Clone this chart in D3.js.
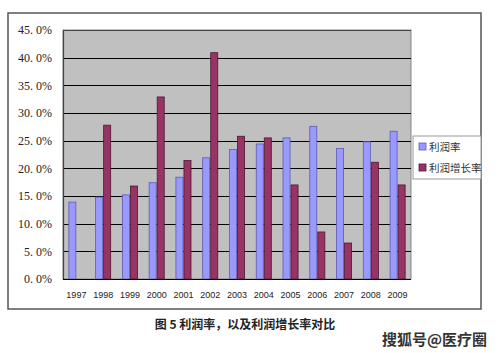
<!DOCTYPE html>
<html>
<head>
<meta charset="utf-8">
<script src="https://cdn.jsdelivr.net/npm/d3@7"></script>
<style>
  html, body { margin: 0; padding: 0; background: #fff; }
  svg { display: block; }
</style>
</head>
<body>
<svg id="chart" width="499" height="353"></svg>
<script>
// data
var years = ["1997","1998","1999","2000","2001","2002","2003","2004","2005","2006","2007","2008","2009"];
var profitRate = [13.9, 14.8, 15.2, 17.4, 18.4, 21.9, 23.4, 24.4, 25.5, 27.6, 23.6, 24.8, 26.7];
var profitGrowth = [null, 27.8, 16.8, 32.9, 21.4, 40.9, 25.8, 25.5, 17.0, 8.5, 6.5, 21.1, 17.0];
var seriesNames = ["利润率", "利润增长率"];
var yTicks = [0, 5, 10, 15, 20, 25, 30, 35, 40, 45];

var colors = { "利润率": "#9999ff", "利润增长率": "#993366" };
var strokes = { "利润率": "#5c5cae", "利润增长率": "#4a1830" };

var svg = d3.select("#chart");

// outer frame
svg.append("rect")
  .attr("x", 8).attr("y", 13)
  .attr("width", 473).attr("height", 296)
  .attr("fill", "#fff")
  .attr("stroke", "#555")
  .attr("stroke-width", 1.5);

var plot = { left: 63, top: 30, right: 411, bottom: 279 };

var y = d3.scaleLinear().domain([0, 45]).range([plot.bottom, plot.top]);
var x0 = d3.scaleBand().domain(years)
  .range([plot.left, plot.right])
  .paddingInner(0.4).paddingOuter(0.2);
var x1 = d3.scaleBand().domain(seriesNames).range([0, x0.bandwidth()]);

// plot background
svg.append("rect")
  .attr("x", plot.left).attr("y", plot.top)
  .attr("width", plot.right - plot.left).attr("height", plot.bottom - plot.top)
  .attr("fill", "#c0c0c0")
  .attr("stroke", "#888")
  .attr("stroke-width", 1);

// gridlines
svg.append("g").selectAll("line")
  .data(yTicks.filter(function(d){ return d > 0 && d < 45; }))
  .enter().append("line")
  .attr("x1", plot.left).attr("x2", plot.right)
  .attr("y1", function(d){ return Math.round(y(d)) + 0.5; })
  .attr("y2", function(d){ return Math.round(y(d)) + 0.5; })
  .attr("stroke", "#000")
  .attr("stroke-width", 1);

// left and top edges darker
svg.append("path")
  .attr("d", "M" + (plot.left + 0.5) + "," + plot.bottom + "V" + (plot.top + 0.5) + "H" + plot.right)
  .attr("fill", "none").attr("stroke", "#444").attr("stroke-width", 1.2);

// bars
var rows = years.map(function(yr, i){
  return [
    { year: yr, name: seriesNames[0], value: profitRate[i] },
    { year: yr, name: seriesNames[1], value: profitGrowth[i] }
  ];
});

svg.append("g").selectAll("g")
  .data(rows)
  .enter().append("g")
  .attr("transform", function(d){ return "translate(" + x0(d[0].year) + ",0)"; })
  .selectAll("rect")
  .data(function(d){ return d.filter(function(e){ return e.value != null; }); })
  .enter().append("rect")
  .attr("x", function(d){ return x1(d.name) + 0.5; })
  .attr("width", x1.bandwidth() - 1)
  .attr("y", function(d){ return y(d.value); })
  .attr("height", function(d){ return plot.bottom - y(d.value); })
  .attr("fill", function(d){ return colors[d.name]; })
  .attr("stroke", function(d){ return strokes[d.name]; })
  .attr("stroke-width", 0.8);

// bottom axis line
svg.append("line")
  .attr("x1", plot.left).attr("x2", plot.right)
  .attr("y1", plot.bottom + 0.5).attr("y2", plot.bottom + 0.5)
  .attr("stroke", "#000").attr("stroke-width", 1.2);

// y axis labels
var yAxis = d3.axisLeft(y).tickValues(yTicks).tickSize(0).tickPadding(11)
  .tickFormat(function(d){ return d3.format(".1f")(d).replace(".", ". ") + "%"; });
var gy = svg.append("g")
  .attr("transform", "translate(" + plot.left + ",0)")
  .call(yAxis);
gy.select(".domain").remove();
gy.selectAll("text")
  .attr("font-family", "'Liberation Serif', 'DejaVu Serif', serif")
  .attr("font-size", 12)
  .attr("fill", "#222");

// x axis labels
var xAxis = d3.axisBottom(x0).tickSize(0).tickPadding(13);
var gx = svg.append("g")
  .attr("transform", "translate(0," + plot.bottom + ")")
  .call(xAxis);
gx.select(".domain").remove();
gx.selectAll("text")
  .attr("font-family", "'Liberation Sans', Arial, sans-serif")
  .attr("font-size", 9)
  .attr("fill", "#222");

// legend
var lg = svg.append("g").attr("transform", "translate(413,136)");
lg.append("rect")
  .attr("width", 68).attr("height", 43)
  .attr("fill", "#fff").attr("stroke", "#999").attr("stroke-width", 1);
seriesNames.forEach(function(name, i){
  var row = lg.append("g").attr("transform", "translate(6," + (11 + i * 21) + ")");
  row.append("rect")
    .attr("x", 0).attr("y", -4)
    .attr("width", 7).attr("height", 7)
    .attr("fill", colors[name]).attr("stroke", strokes[name]).attr("stroke-width", 0.8);
  row.append("text")
    .attr("x", 10).attr("y", 4)
    .attr("font-family", "'Noto Sans CJK SC', sans-serif")
    .attr("font-size", 10.5)
    .attr("fill", "#333")
    .text(name);
});

// caption
svg.append("text")
  .attr("x", 245).attr("y", 329)
  .attr("text-anchor", "middle")
  .attr("font-family", "'Noto Sans CJK SC', sans-serif")
  .attr("font-size", 12)
  .attr("font-weight", "bold")
  .attr("fill", "#222")
  .text("图 5  利润率，以及利润增长率对比");

// watermark
svg.append("text")
  .attr("x", 487).attr("y", 345)
  .attr("text-anchor", "end")
  .attr("font-family", "'Noto Sans CJK SC', sans-serif")
  .attr("font-size", 15)
  .attr("font-weight", "bold")
  .attr("fill", "#333")
  .attr("stroke", "#fff")
  .attr("stroke-width", 0.6)
  .attr("paint-order", "stroke")
  .text("搜狐号@医疗圈");
</script>
</body>
</html>
